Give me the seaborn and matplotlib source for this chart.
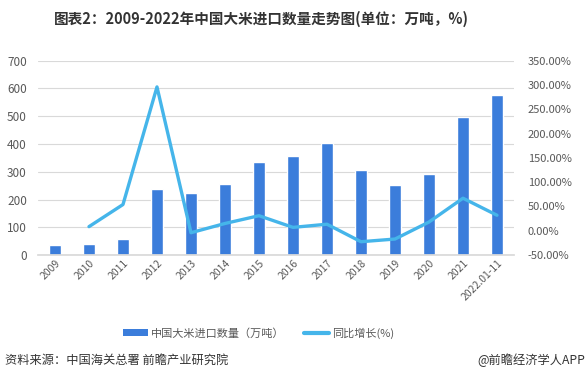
import numpy as np
import pandas as pd
import seaborn as sns
import matplotlib.pyplot as plt
from matplotlib.patches import Patch
from matplotlib.lines import Line2D
from matplotlib.ticker import FuncFormatter

sns.set_theme(style="white")
plt.rcParams['font.family'] = ['Noto Sans CJK SC', 'DejaVu Sans']

# data
years = ['2009', '2010', '2011', '2012', '2013', '2014', '2015', '2016',
         '2017', '2018', '2019', '2020', '2021', '2022.01-11']
imports = [36, 39, 58, 237, 224, 256, 335, 356, 403, 306, 253, 292, 497, 576]
growth = [np.nan, 8.5, 54, 296, -4, 15, 31, 7, 13.5, -22.5, -17, 18, 67, 32]

bar_color = '#3b7ddb'
line_color = '#45b5ea'

df = pd.DataFrame({'year': years, 'imports': imports, 'growth': growth})
df['pos'] = range(len(df))

fig = plt.figure(figsize=(5.88, 3.83), dpi=100)
ax = fig.add_axes([0.0646, 0.334, 0.8095, 0.5076])

sns.barplot(data=df, x='year', y='imports', color=bar_color, width=0.33,
            saturation=1, ax=ax)
ax.set_ylim(0, 700)
ax.set_yticks(range(0, 701, 100))
ax.yaxis.grid(True, color='#d9d9d9', linewidth=0.8)
ax.set_axisbelow(True)
ax.set_xlabel('')
ax.set_ylabel('')
for s in ax.spines.values():
    s.set_visible(False)
ax.spines['bottom'].set_visible(True)
ax.spines['bottom'].set_color('#d9d9d9')
ax.tick_params(axis='y', labelsize=8.5, colors='#595959', length=0, pad=8)
ax.tick_params(axis='x', labelsize=7.5, colors='#595959', length=0, pad=2)
plt.setp(ax.get_xticklabels(), rotation=45, ha='right', rotation_mode='anchor')

ax2 = ax.twinx()
sns.lineplot(data=df, x='pos', y='growth', color=line_color, linewidth=2.4, ax=ax2)
ax2.set_ylim(-50, 350)
ax2.set_yticks(range(-50, 351, 50))
ax2.yaxis.set_major_formatter(FuncFormatter(lambda v, p: f'{v:.2f}%'))
ax2.set_ylabel('')
ax2.set_xlabel('')
for s in ax2.spines.values():
    s.set_visible(False)
ax2.tick_params(axis='y', labelsize=8, colors='#595959', length=0, pad=10)
ax.set_xlim(-0.5, len(df) - 0.5)

handles = [Patch(facecolor=bar_color, edgecolor='none'),
           Line2D([0], [0], color=line_color, linewidth=3)]
fig.legend(handles, ['中国大米进口数量（万吨）', '同比增长(%)'], loc='center',
           bbox_to_anchor=(0.44, 0.13), ncol=2, frameon=False, fontsize=8,
           handlelength=2.2, handleheight=0.6, handletextpad=0.3,
           columnspacing=1.8, labelcolor='#595959')

fig.text(0.444, 0.95, '图表2：2009-2022年中国大米进口数量走势图(单位：万吨，%)',
         ha='center', va='center', fontsize=10.5, fontweight='bold', color='#333333')
fig.text(0.009, 0.06, '资料来源：中国海关总署 前瞻产业研究院', ha='left', va='center',
         fontsize=8.8, color='#333333')
fig.text(0.995, 0.06, '@前瞻经济学人APP', ha='right', va='center',
         fontsize=8.8, color='#333333')

fig.savefig('out.png', dpi=100)
